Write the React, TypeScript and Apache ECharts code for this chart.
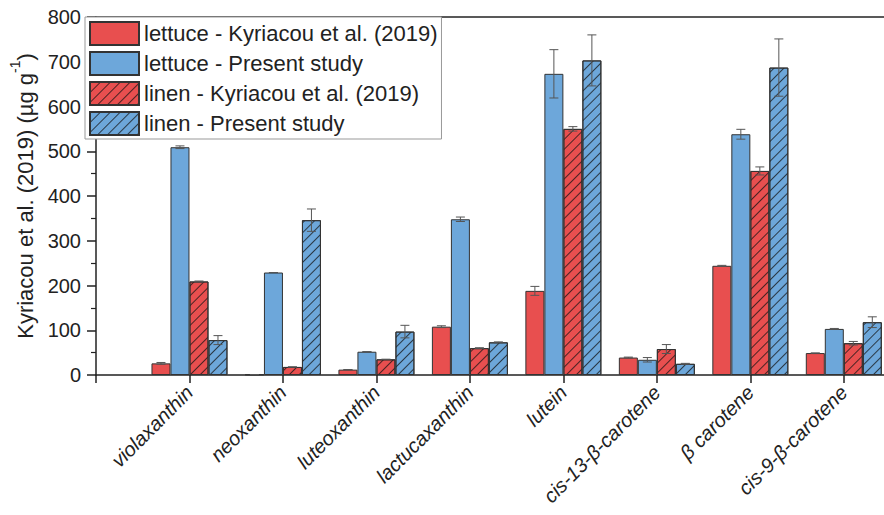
import React, { useEffect, useRef } from "react";
import * as echarts from "echarts";

const categories = [
  "violaxanthin",
  "neoxanthin",
  "luteoxanthin",
  "lactucaxanthin",
  "lutein",
  "cis-13-β-carotene",
  "β carotene",
  "cis-9-β-carotene",
];
const seriesNames = [
  "lettuce - Kyriacou et al. (2019)",
  "lettuce - Present study",
  "linen - Kyriacou et al. (2019)",
  "linen - Present study",
];
const lettuceKyr = [26, 1, 12, 108, 188, 39, 244, 49];
const lettucePresent = [509, 229, 52, 348, 673, 34, 538, 103];
const linenKyr = [209, 18, 35, 60, 550, 58, 456, 71];
const linenPresent = [78, 346, 97, 73, 703, 25, 687, 118];
const lettuceKyrErr = [2, 0, 0, 2, 10, 1, 1, 0];
const lettucePresentErr = [3, 0, 0, 5, 54, 5, 11, 1];
const linenKyrErr = [1, 0, 0, 1, 5, 10, 9, 4];
const linenPresentErr = [10, 25, 14, 1, 57, 1, 64, 12];
const yTicks = [0, 100, 200, 300, 400, 500, 600, 700, 800];

const RED = "#E84F4F";
const BLUE = "#6DA7DA";
const BAR_W = 19;
const FONT = "Liberation Sans";

export default function App() {
  const ref = useRef<HTMLDivElement>(null);
  useEffect(() => {
    if (!ref.current) return;
    const chart = echarts.init(ref.current, undefined, { renderer: "svg" });
    const values = [lettuceKyr, lettucePresent, linenKyr, linenPresent];
    const errs = [lettuceKyrErr, lettucePresentErr, linenKyrErr, linenPresentErr];
    const colors = [RED, BLUE, RED, BLUE];
    const hatch = {
      symbol: "rect",
      symbolSize: 1,
      color: "rgba(20,20,20,0.75)",
      dashArrayX: [1, 0],
      dashArrayY: [1, 6],
      rotation: -Math.PI / 4,
    };
    const barSeries = values.map((vals, k) => ({
      type: "bar",
      name: seriesNames[k],
      xAxisIndex: 0,
      barWidth: BAR_W,
      barGap: "0%",
      data: vals.map((v, i) => [i + 1, v]),
      itemStyle: {
        color: colors[k],
        borderColor: "#333",
        borderWidth: 1,
        decal: k >= 2 ? hatch : undefined,
      },
      z: 2,
    }));
    const errSeries = values.map((vals, k) => ({
      type: "custom",
      name: "err" + k,
      xAxisIndex: 0,
      z: 5,
      data: vals.map((v, i) => [i + 1, v, errs[k][i]]),
      renderItem: (params: any, api: any) => {
        const x = api.value(0);
        const v = api.value(1);
        const e = api.value(2);
        const off = (k - 1.5) * BAR_W;
        const t = api.coord([x, v + e]);
        const b = api.coord([x, v - e]);
        const cx = t[0] + off;
        const style = { stroke: "#555", lineWidth: 1 };
        return {
          type: "group",
          children: [
            { type: "line", shape: { x1: cx, y1: t[1], x2: cx, y2: b[1] }, style },
            { type: "line", shape: { x1: cx - 4.5, y1: t[1], x2: cx + 4.5, y2: t[1] }, style },
            { type: "line", shape: { x1: cx - 4.5, y1: b[1], x2: cx + 4.5, y2: b[1] }, style },
          ],
        };
      },
    }));
    chart.setOption({
      animation: false,
      backgroundColor: "#fff",
      grid: { left: 82, right: 0, top: 17, bottom: 140, containLabel: false },
      legend: {
        data: seriesNames,
        icon: "rect",
        orient: "vertical",
        left: 85,
        top: 17,
        itemWidth: 49,
        itemHeight: 23,
        itemGap: 5,
        padding: [4, 4, 3, 4],
        borderColor: "#999",
        borderWidth: 1,
        backgroundColor: "#fff",
        textStyle: { fontSize: 22, color: "#222", fontFamily: FONT },
      },
      xAxis: [
        {
          type: "value",
          min: 0,
          max: 8.43,
          interval: 1,
          position: "bottom",
          splitLine: { show: false },
          axisLine: { show: true, onZero: false, lineStyle: { color: "#222", width: 1.5 } },
          axisTick: { show: true, inside: false, length: 8, lineStyle: { color: "#222", width: 1.5 } },
          axisLabel: {
            rotate: 45,
            fontSize: 20,
            fontStyle: "italic",
            color: "#222",
            fontFamily: FONT,
            margin: 14,
            showMaxLabel: false,
            formatter: (v: number) => categories[v - 1] ?? "",
          },
        },
        {
          type: "value",
          min: 0,
          max: 8.43,
          position: "top",
          splitLine: { show: false },
          axisLine: { show: true, onZero: false, lineStyle: { color: "#222", width: 1.5 } },
          axisTick: { show: false },
          axisLabel: { show: false },
        },
      ],
      yAxis: {
        type: "value",
        min: 0,
        max: 800,
        interval: 100,
        splitLine: { show: false },
        axisLine: { show: true, lineStyle: { color: "#222", width: 1.5 } },
        axisTick: { show: true, length: 9, lineStyle: { color: "#222", width: 1.5 } },
        minorTick: { show: true, splitNumber: 2, length: 5, lineStyle: { color: "#222", width: 1.2 } },
        axisLabel: {
          fontSize: 20,
          color: "#222",
          fontFamily: FONT,
          margin: 15,
          formatter: (v: number) => (yTicks.includes(v) ? String(v) : ""),
        },
        name: "{a|Kyriacou et al. (2019) (µg g}{s|-1}{a|)}",
        nameLocation: "middle",
        nameGap: 60,
        nameRotate: 90,
        nameTextStyle: {
          rich: {
            a: { fontSize: 22, color: "#222", fontFamily: FONT, lineHeight: 28, verticalAlign: "bottom" },
            s: { fontSize: 14, color: "#222", fontFamily: FONT, lineHeight: 28, verticalAlign: "top" },
          },
        },
      },
      series: [...barSeries, ...errSeries],
    });
    return () => chart.dispose();
  }, []);
  return (
    <div
      ref={ref}
      style={{ position: "absolute", left: 0, top: 0, width: 884, height: 515 }}
    />
  );
}
